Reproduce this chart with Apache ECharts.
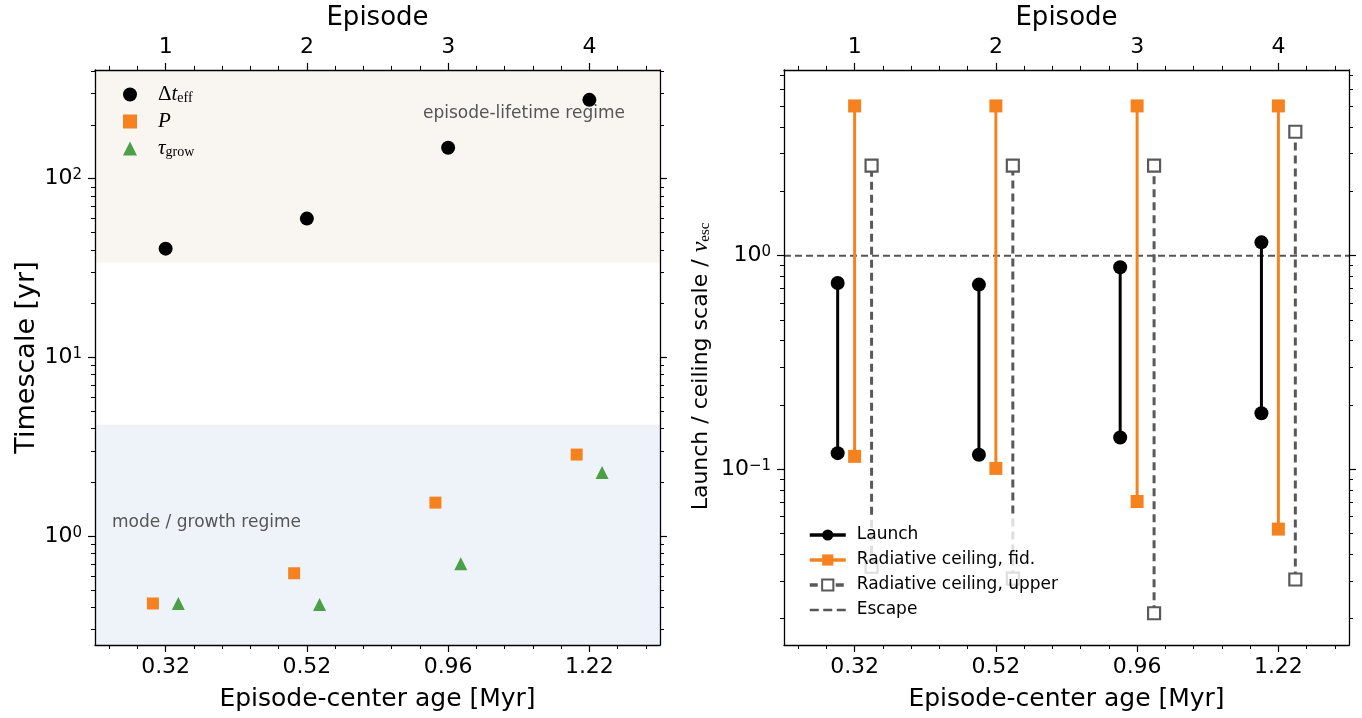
<!DOCTYPE html>
<html><head><meta charset="utf-8">
<script src="https://cdn.jsdelivr.net/npm/echarts@6/dist/echarts.min.js"></script>
<style>html,body{margin:0;padding:0;background:#fff}#c{width:1362px;height:718px}</style>
</head><body><div id="c"></div>
<script>
// ---------- data ----------
const episodes = [1, 2, 3, 4];
const episodeLabels = ['1', '2', '3', '4'];
const ageLabels = ['0.32', '0.52', '0.96', '1.22'];
// left panel: timescales [yr]
const dtEff = [40.6, 59.8, 149, 276];
const periodP = [0.42, 0.62, 1.54, 2.86];
const tauGrow = [0.42, 0.415, 0.70, 2.27];
const lifetimeRegimeMin = 34;
const growthRegimeMax = 4.2;
// right panel: launch / ceiling scale / v_esc
const launchLo = [0.119, 0.117, 0.141, 0.183];
const launchHi = [0.745, 0.732, 0.882, 1.154];
const fidLo = [0.115, 0.101, 0.0707, 0.0525];
const fidHi = [5.02, 5.02, 5.02, 5.02];
const upperLo = [0.035, 0.0308, 0.0212, 0.0305];
const upperHi = [2.64, 2.64, 2.64, 3.80];
const escapeLevel = 1.0;
const leftYMajor = [1, 10, 100];
const rightYMajor = [0.1, 1];

// ---------- layout / style ----------
const FONT = 'DejaVu Sans';
const X_MIN = 0.5, X_MAX = 4.5;
const L_YMIN = 0.246, L_YMAX = 406;
const R_YMIN = 0.01506, R_YMAX = 7.40;
const OFF_L = 0.09, OFF_R = 0.12;
const ORANGE = '#f5821f', GREEN = '#4d9f47', GREY = '#595959';

function minorX() {
  const out = [];
  for (let k = 3; k <= 22; k++) { const v = Math.round(k * 0.2 * 10) / 10; if (Math.abs(v - Math.round(v)) > 1e-6 && v > X_MIN && v < X_MAX) out.push(v); }
  return out;
}
function minorLog(min, max) {
  const out = [];
  for (let e = Math.floor(Math.log10(min)); e <= Math.ceil(Math.log10(max)); e++) {
    for (let k = 2; k <= 9; k++) { const v = k * Math.pow(10, e); if (v >= min && v <= max) out.push(v); }
  }
  return out;
}
function powLabel(v) {
  const e = Math.round(Math.log10(v));
  return '{b|10}{s|' + (e < 0 ? '\u2212' + (-e) : e) + '}';
}
const powRich = {
  b: { fontFamily: FONT, fontSize: 22, color: '#000' },
  s: { fontFamily: FONT, fontSize: 15, color: '#000', verticalAlign: 'top', padding: [0, 0, 6, 0] }
};
const lineStyleAxis = { color: '#000', width: 1.3 };

function xAxes(g) {
  const base = { type: 'value', gridIndex: g, min: X_MIN, max: X_MAX, splitLine: { show: false }, z: 10 };
  return [
    Object.assign({}, base, {
      position: 'bottom', axisLine: { show: true, onZero: false, lineStyle: lineStyleAxis },
      axisTick: { show: true, customValues: episodes, length: 7, lineStyle: { color: '#000', width: 1.2 } },
      axisLabel: { show: true, customValues: episodes, margin: 11, fontFamily: FONT, fontSize: 22, color: '#000',
        formatter: v => ageLabels[episodes.indexOf(Math.round(v))] },
      name: 'Episode-center age [Myr]', nameLocation: 'middle', nameGap: 42,
      nameTextStyle: { fontFamily: FONT, fontSize: 25, color: '#000' }
    }),
    Object.assign({}, base, {
      position: 'bottom', axisLine: { show: false, onZero: false },
      axisTick: { show: true, customValues: minorX(), length: 4, lineStyle: { color: '#000', width: 1 } },
      axisLabel: { show: false }
    }),
    Object.assign({}, base, {
      position: 'top', axisLine: { show: true, onZero: false, lineStyle: lineStyleAxis },
      axisTick: { show: true, customValues: episodes, length: 7, lineStyle: { color: '#000', width: 1.2 } },
      axisLabel: { show: true, customValues: episodes, margin: 12, fontFamily: FONT, fontSize: 22, color: '#000',
        formatter: v => episodeLabels[episodes.indexOf(Math.round(v))] },
      name: 'Episode', nameLocation: 'middle', nameGap: 38,
      nameTextStyle: { fontFamily: FONT, fontSize: 26, color: '#000' }
    }),
    Object.assign({}, base, {
      position: 'top', axisLine: { show: false, onZero: false },
      axisTick: { show: true, customValues: minorX(), length: 4, lineStyle: { color: '#000', width: 1 } },
      axisLabel: { show: false }
    })
  ];
}
function yAxes(g, min, max, majors, name, gap, nameSize, namePad) {
  const base = { type: 'log', logBase: 10, gridIndex: g, min: min, max: max, splitLine: { show: false }, z: 10 };
  const minors = minorLog(min, max);
  return [
    Object.assign({}, base, {
      position: 'left', axisLine: { show: true, onZero: false, lineStyle: lineStyleAxis },
      axisTick: { show: true, customValues: majors, length: 7, lineStyle: { color: '#000', width: 1.2 } },
      axisLabel: { show: true, customValues: majors, margin: 13, formatter: powLabel, rich: powRich },
      name: name, nameLocation: 'middle', nameGap: gap, nameRotate: 90,
      nameTextStyle: { fontFamily: FONT, fontSize: nameSize, color: '#000', padding: namePad,
        rich: { i: { fontFamily: 'Liberation Serif', fontStyle: 'italic', fontSize: nameSize + 2, color: '#000' },
                sub: { fontFamily: 'Liberation Serif', fontSize: Math.round(nameSize * 0.7), color: '#000', verticalAlign: 'bottom' } } }
    }),
    Object.assign({}, base, {
      position: 'left', axisLine: { show: false, onZero: false },
      axisTick: { show: true, customValues: minors, length: 4, lineStyle: { color: '#000', width: 1 } },
      axisLabel: { show: false }
    }),
    Object.assign({}, base, {
      position: 'right', axisLine: { show: true, onZero: false, lineStyle: lineStyleAxis },
      axisTick: { show: true, customValues: majors, length: 7, lineStyle: { color: '#000', width: 1.2 } },
      axisLabel: { show: false }
    }),
    Object.assign({}, base, {
      position: 'right', axisLine: { show: false, onZero: false },
      axisTick: { show: true, customValues: minors, length: 4, lineStyle: { color: '#000', width: 1 } },
      axisLabel: { show: false }
    })
  ];
}

const series = [];
// left panel
series.push({
  name: 'dt', type: 'scatter', xAxisIndex: 0, yAxisIndex: 0, symbol: 'circle', symbolSize: 14, z: 3,
  itemStyle: { color: '#000', opacity: 1 },
  data: episodes.map((e, i) => [e, dtEff[i]]),
  markArea: { silent: true, z: 1, data: [
    [{ yAxis: lifetimeRegimeMin, itemStyle: { color: '#f9f5f0', opacity: 1 } }, { yAxis: L_YMAX }],
    [{ yAxis: L_YMIN, itemStyle: { color: '#eef3fa', opacity: 1 } }, { yAxis: growthRegimeMax }]
  ] }
});
series.push({
  name: 'P', type: 'scatter', xAxisIndex: 0, yAxisIndex: 0, symbol: 'rect', symbolSize: 12, z: 3,
  itemStyle: { color: ORANGE, opacity: 1 },
  data: episodes.map((e, i) => [e - OFF_L, periodP[i]])
});
series.push({
  name: 'tau', type: 'scatter', xAxisIndex: 0, yAxisIndex: 0, symbol: 'triangle', symbolSize: 13, z: 3,
  itemStyle: { color: GREEN, opacity: 1 },
  data: episodes.map((e, i) => [e + OFF_L, tauGrow[i]])
});
// right panel
series.push({
  name: 'Escape', type: 'line', xAxisIndex: 4, yAxisIndex: 4, symbol: 'none', z: 1, color: '#555',
  lineStyle: { color: '#555', width: 2, type: [7, 4] },
  data: [[X_MIN, escapeLevel], [X_MAX, escapeLevel]]
});
episodes.forEach((e, i) => {
  series.push({
    name: 'Launch', type: 'line', xAxisIndex: 4, yAxisIndex: 4, symbol: 'circle', symbolSize: 14, z: 3, color: '#000',
    lineStyle: { color: '#000', width: 3 }, itemStyle: { color: '#000' },
    data: [[e - OFF_R, launchLo[i]], [e - OFF_R, launchHi[i]]]
  });
  series.push({
    name: 'Radiative ceiling, fid.', type: 'line', xAxisIndex: 4, yAxisIndex: 4, symbol: 'rect', symbolSize: 13, z: 3, color: ORANGE,
    lineStyle: { color: ORANGE, width: 3 }, itemStyle: { color: ORANGE },
    data: [[e, fidLo[i]], [e, fidHi[i]]]
  });
  series.push({
    name: 'Radiative ceiling, upper', type: 'line', xAxisIndex: 4, yAxisIndex: 4, symbol: 'rect', symbolSize: 12, z: 3, color: GREY,
    lineStyle: { color: GREY, width: 3, type: [8, 5] }, itemStyle: { color: '#fff', borderColor: GREY, borderWidth: 2.2 },
    data: [[e + OFF_R, upperLo[i]], [e + OFF_R, upperHi[i]]]
  });
});

const leftLegendText = { dt: '{n|\u0394}{i|t}{sub|eff}', P: '{i|P}', tau: '{i|\u03c4}{sub|grow}' };

const option = {
  animation: false,
  backgroundColor: '#fff',
  textStyle: { fontFamily: FONT },
  grid: [
    { left: 95, top: 69, width: 565, height: 576, containLabel: false },
    { left: 784, top: 69, width: 565, height: 576, containLabel: false }
  ],
  xAxis: xAxes(0).concat(xAxes(1)),
  yAxis: yAxes(0, L_YMIN, L_YMAX, leftYMajor, 'Timescale [yr]', 53, 27, 0)
    .concat(yAxes(1, R_YMIN, R_YMAX, rightYMajor, 'Launch / ceiling scale / {i|v}{sub|esc}', 71, 22, [0, 18, 0, 0])),
  legend: [
    {
      data: ['dt', 'P', 'tau'], orient: 'vertical', left: 123, top: 84, padding: 0,
      itemWidth: 14, itemHeight: 14, itemGap: 6, selectedMode: false,
      formatter: n => leftLegendText[n],
      textStyle: { padding: [0, 0, 0, 16], fontSize: 20, color: '#000',
        rich: {
          n: { fontFamily: 'Liberation Serif', fontSize: 21, color: '#000' },
          i: { fontFamily: 'Liberation Serif', fontStyle: 'italic', fontSize: 21, color: '#000' },
          sub: { fontFamily: 'Liberation Serif', fontSize: 14, color: '#000', verticalAlign: 'bottom' }
        } }
    },
    {
      data: ['Launch', 'Radiative ceiling, fid.', 'Radiative ceiling, upper',
        { name: 'Escape', icon: 'path://M0,0M36,14M0,5.8h9v2.4h-9zM13.5,5.8h9v2.4h-9zM27,5.8h9v2.4h-9z' }],
      orient: 'vertical', left: 797, top: 517, padding: [8, 8, 8, 11],
      itemWidth: 36, itemHeight: 14, itemGap: 5, selectedMode: false,
      backgroundColor: 'rgba(255,255,255,0.8)',
      lineStyle: { width: 3.5 },
      textStyle: { fontFamily: FONT, fontSize: 17, lineHeight: 20, color: '#000', padding: [0, 0, 0, 6] }
    }
  ],
  graphic: [
    { type: 'text', left: 423, top: 105, z: 10, style: { text: 'episode-lifetime regime', font: '17px "DejaVu Sans"', fill: '#555' } },
    { type: 'text', left: 112, top: 514, z: 10, style: { text: 'mode / growth regime', font: '17px "DejaVu Sans"', fill: '#555' } }
  ],
  series: series
};

const chart = echarts.init(document.getElementById('c'), null, { renderer: 'canvas' });
chart.setOption(option);
</script>
</body></html>
